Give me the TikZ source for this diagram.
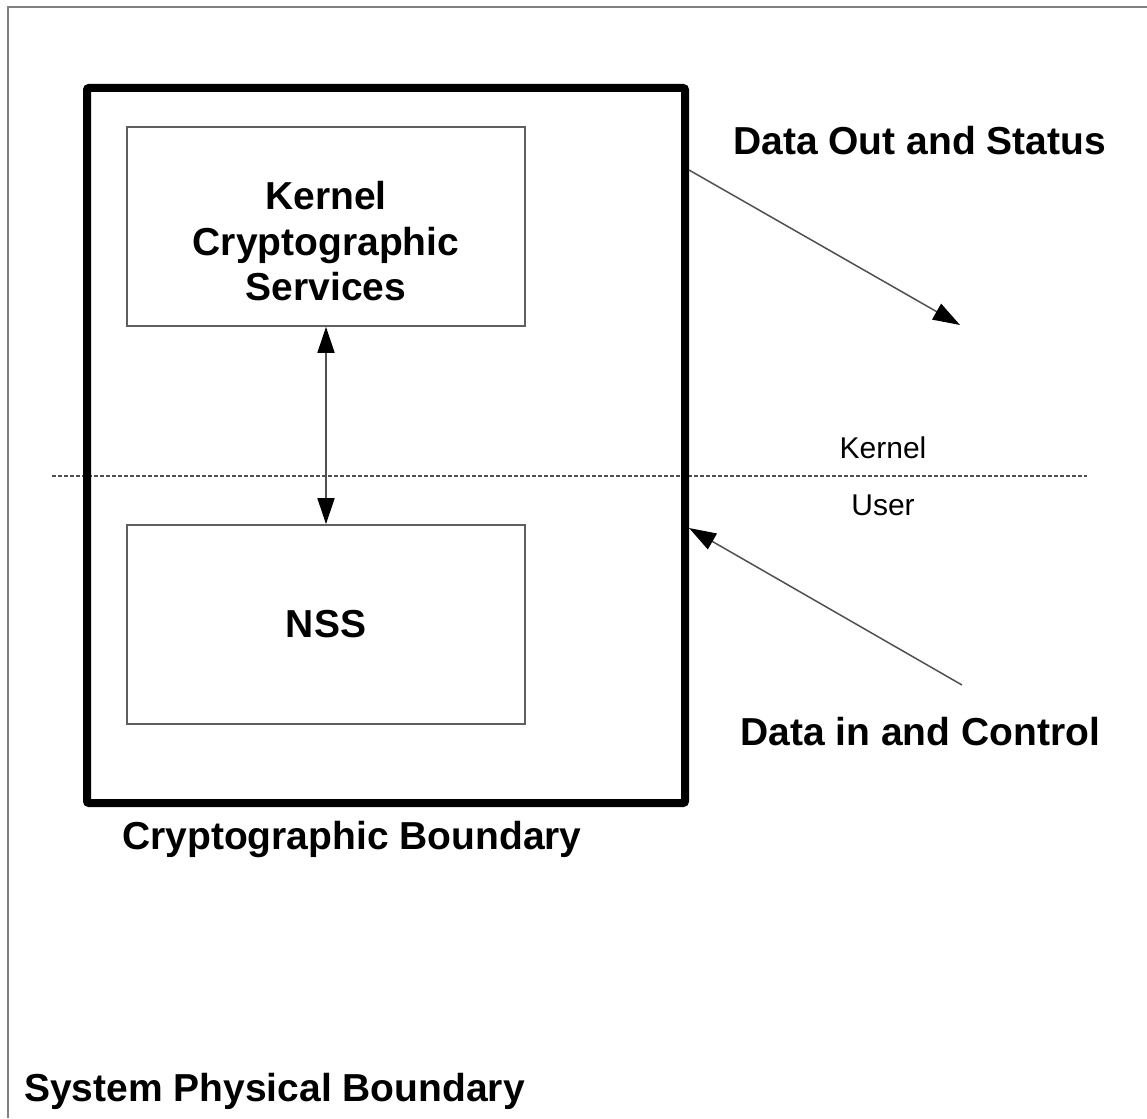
\documentclass[tikz,border=0pt]{standalone}
\usepackage{fontspec}
\setmainfont{Liberation Sans}
\usetikzlibrary{arrows.meta}
\definecolor{framegray}{RGB}{128,128,128}
\definecolor{boxgray}{RGB}{95,95,95}
\definecolor{linegray}{RGB}{80,80,80}
\tikzset{
  bigtxt/.style={font=\fontsize{39}{45.5}\selectfont\bfseries, inner sep=0pt},
  smalltxt/.style={font=\fontsize{30}{36}\selectfont, inner sep=0pt},
  svcbox/.style={draw=boxgray, line width=1.6pt, rectangle, minimum width=398pt, minimum height=199pt, inner sep=0pt},
  boundary/.style={draw=black, line width=8pt, rectangle, rounded corners=2pt, minimum width=598pt, minimum height=715pt},
  flow/.style={draw=linegray, line width=1.5pt, -{Triangle[length=27pt,width=18pt,black]}},
  biflow/.style={draw=linegray, line width=1.5pt, {Triangle[length=26pt,width=17pt,black]}-{Triangle[length=26pt,width=17pt,black]}},
}
\begin{document}
\begin{tikzpicture}[x=1pt,y=1pt]
\useasboundingbox (0,0) rectangle (1147,-1118);
% outer system boundary (only left and top edges visible)
\draw[framegray, line width=2pt] (1147,-7) -- (8,-7) -- (8,-1118);
% kernel / user separation
\draw[linegray, line width=1.2pt, dash pattern=on 4pt off 2pt] (52,-476) -- (1087,-476);
% cryptographic boundary
\node[boundary] (crypto) at (386,-445.5) {};
% inner boxes
\node[svcbox] (kcs) at (326,-226.5) {};
\node[bigtxt, align=center] (kcslabel) at (326,-241.5) {Kernel\\Cryptographic\\Services};
\node[svcbox, bigtxt] (nss) at (326,-624.5) {NSS};
\draw[biflow] (kcs.south) -- (nss.north);
% labels
\node[smalltxt, anchor=base] (kernel) at (883,-458) {Kernel};
\node[smalltxt, anchor=base] (user) at (883,-515) {User};
\node[bigtxt, anchor=base west] (outlbl) at (733,-155) {Data Out and Status};
\node[bigtxt, anchor=base west] (inlbl) at (740,-745) {Data in and Control};
\node[bigtxt, anchor=base west] (cblbl) at (122,-849) {Cryptographic Boundary};
\node[bigtxt, anchor=base west] (sblbl) at (24,-1101) {System Physical Boundary};
% data flows
\coordinate (outend) at (960,-325);
\coordinate (instart) at (962,-685);
\draw[flow] (crypto.east |- 0,-170) -- (outend);
\draw[flow] (instart) -- (crypto.east |- 0,-528);
\end{tikzpicture}
\end{document}
